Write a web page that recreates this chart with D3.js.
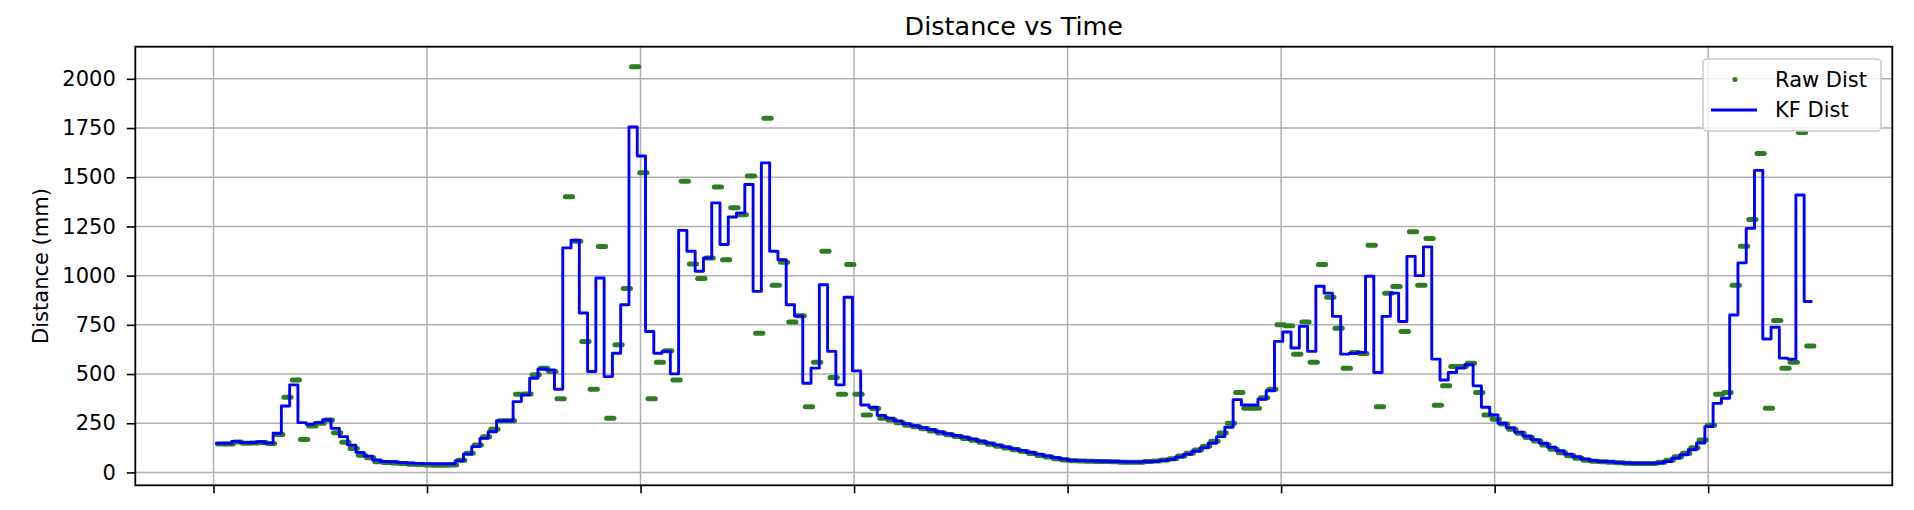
<!DOCTYPE html>
<html><head><meta charset="utf-8">
<script src="https://cdn.jsdelivr.net/npm/d3@7"></script>
<style>
body{margin:0;background:#fff}
svg{display:block}
text{font-family:"DejaVu Sans",sans-serif;fill:#000}
</style>
</head><body>
<svg id="chart" width="1914" height="510"></svg>
<script>
// ---- data (one entry per sensor update step) ----
const kfDist = [
148,148,158,152,152,156,149,199,338,445,
253,245,253,268,224,182,139,102,83,63,
56,54,50,48,46,45,44,44,44,59,
93,131,173,207,263,263,360,394,479,526,
521,423,1141,1180,810,513,988,487,606,852,
1755,1608,716,606,615,501,1230,1124,1022,1090,
1370,1158,1298,1319,1463,920,1573,1124,1081,852,
795,453,530,954,615,445,890,516,343,331,
290,276,262,248,238,228,218,207,197,188,
180,170,160,150,140,130,121,112,103,93,
84,76,68,62,60,59,58,57,56,54,
53,53,54,56,60,66,78,92,108,125,
148,182,230,370,343,343,372,415,666,714,
632,742,615,946,911,793,601,605,610,997,
508,793,911,767,1098,1000,1146,576,470,508,
530,547,440,331,292,250,228,205,185,167,
148,128,110,93,80,68,60,56,54,50,
48,47,46,46,48,56,72,90,115,150,
233,351,377,800,1065,1240,1535,678,738,581,
576,1410,869
];
const rawDist = [
145,145,155,148,150,152,147,193,382,470,
168,236,250,266,202,153,122,88,75,54,
50,48,46,42,40,38,37,36,38,62,
97,139,182,219,263,263,397,399,496,530,
513,374,1401,1175,666,423,1148,275,649,935,
2062,1523,374,560,618,470,1480,1059,985,1090,
1450,1081,1345,1310,1506,707,1800,951,1068,764,
796,334,560,1124,482,397,1056,397,292,325,
275,266,252,240,232,222,211,200,192,183,
173,163,153,143,133,124,115,106,96,86,
78,70,63,60,58,57,56,55,54,52,
52,52,55,58,63,70,84,98,114,133,
158,200,250,406,326,326,380,423,750,745,
601,764,560,1056,890,733,530,610,605,1155,
334,911,945,716,1223,951,1189,341,440,538,
538,555,406,292,270,246,219,199,178,160,
140,118,100,85,72,62,57,54,52,49,
47,46,45,46,52,62,80,98,125,165,
240,397,406,951,1149,1285,1621,326,772,530,
560,1727,643
];
const xTickValues = [-0.2, 25.6, 51.4, 77.2, 103.0, 128.8, 154.6, 180.4];
const yTickValues = [0, 250, 500, 750, 1000, 1250, 1500, 1750, 2000];
const chartTitle = "Distance vs Time";
const yAxisLabel = "Distance (mm)";
const seriesNames = ["Raw Dist", "KF Dist"];

// ---- layout ----
const W = 1914, H = 510;
const plot = {left: 135.3, right: 1892.3, top: 46.7, bottom: 485.3};
const FS = 21;
const RAW_COLOR = "#2f7d22";

const svg = d3.select("#chart");
const N = kfDist.length;

const xPad = N * 0.05;
const x = d3.scaleLinear().domain([0 - xPad, N + xPad]).range([plot.left, plot.right]);
const allV = kfDist.concat(rawDist);
const [lo, hi] = d3.extent(allV);
const yPad = (hi - lo) * 0.05;
const y = d3.scaleLinear().domain([lo - yPad, hi + yPad]).range([plot.bottom, plot.top]);

// grid
const grid = svg.append("g").attr("stroke", "#b0b0b0").attr("stroke-width", 1.5);
grid.selectAll("line.gy").data(yTickValues).join("line")
  .attr("x1", plot.left).attr("x2", plot.right)
  .attr("y1", d => y(d)).attr("y2", d => y(d));
grid.selectAll("line.gx").data(xTickValues).join("line")
  .attr("y1", plot.top).attr("y2", plot.bottom)
  .attr("x1", d => x(d)).attr("x2", d => x(d));

// clip
svg.append("clipPath").attr("id", "clip").append("rect")
  .attr("x", plot.left).attr("y", plot.top)
  .attr("width", plot.right - plot.left).attr("height", plot.bottom - plot.top);

const dataG = svg.append("g").attr("clip-path", "url(#clip)");

// raw readings: each held reading drawn as a run of dots across its step
dataG.append("g").selectAll("line").data(rawDist).join("line")
  .attr("x1", (d, i) => x(i) + 2.5)
  .attr("x2", (d, i) => x(i + 1) + 1.5)
  .attr("y1", d => y(d)).attr("y2", d => y(d))
  .attr("stroke", RAW_COLOR)
  .attr("stroke-width", 5).attr("stroke-linecap", "round");

// KF line
const kfPts = kfDist.map((v, i) => [i, v]);
kfPts.push([N, kfDist[N - 1]]);
const line = d3.line().x(d => x(d[0])).y(d => y(d[1])).curve(d3.curveStepAfter);
dataG.append("path").datum(kfPts)
  .attr("d", line).attr("fill", "none")
  .attr("stroke", "#0000ff").attr("stroke-width", 2.9)
  .attr("stroke-linejoin", "round");

// axes
const yAxis = d3.axisLeft(y).tickValues(yTickValues).tickFormat(d3.format("d")).tickSize(8.5).tickPadding(11);
const gy = svg.append("g").attr("transform", `translate(${plot.left},0)`).call(yAxis);
gy.select(".domain").remove();
gy.selectAll(".tick line").attr("stroke", "#000").attr("stroke-width", 1.6);
gy.selectAll(".tick text").attr("font-size", FS).attr("font-family", "DejaVu Sans").attr("fill", "#222");

const xAxis = d3.axisBottom(x).tickValues(xTickValues).tickFormat(() => "").tickSize(8);
const gx = svg.append("g").attr("transform", `translate(0,${plot.bottom})`).call(xAxis);
gx.select(".domain").remove();
gx.selectAll(".tick line").attr("stroke", "#000").attr("stroke-width", 1.6);

// frame
svg.append("rect")
  .attr("x", plot.left).attr("y", plot.top)
  .attr("width", plot.right - plot.left).attr("height", plot.bottom - plot.top)
  .attr("fill", "none").attr("stroke", "#000").attr("stroke-width", 1.8);

// title & label
svg.append("text").attr("x", (plot.left + plot.right) / 2).attr("y", 35)
  .attr("text-anchor", "middle").attr("font-size", 25.5).attr("fill", "#222").text(chartTitle);
svg.append("text")
  .attr("transform", `translate(41,${(plot.top + plot.bottom) / 2}) rotate(-90)`)
  .attr("text-anchor", "middle").attr("dominant-baseline", "central")
  .attr("font-size", FS).attr("fill", "#222").text(yAxisLabel);

// legend
const lg = svg.append("g");
lg.append("rect").attr("x", 1703).attr("y", 59).attr("width", 178).attr("height", 72)
  .attr("rx", 4).attr("fill", "#fff").attr("fill-opacity", 0.8)
  .attr("stroke", "#cccccc").attr("stroke-width", 1.6);
lg.append("circle").attr("cx", 1735).attr("cy", 79.5).attr("r", 2.5).attr("fill", RAW_COLOR);
lg.append("line").attr("x1", 1711).attr("x2", 1757).attr("y1", 110).attr("y2", 110)
  .attr("stroke", "#0000ff").attr("stroke-width", 2.9);
lg.selectAll("text").data(seriesNames).join("text")
  .attr("x", 1775).attr("y", (d, i) => 79.5 + i * 30.5)
  .attr("dominant-baseline", "central").attr("font-size", FS).attr("fill", "#222")
  .text(d => d);
</script>
</body></html>
